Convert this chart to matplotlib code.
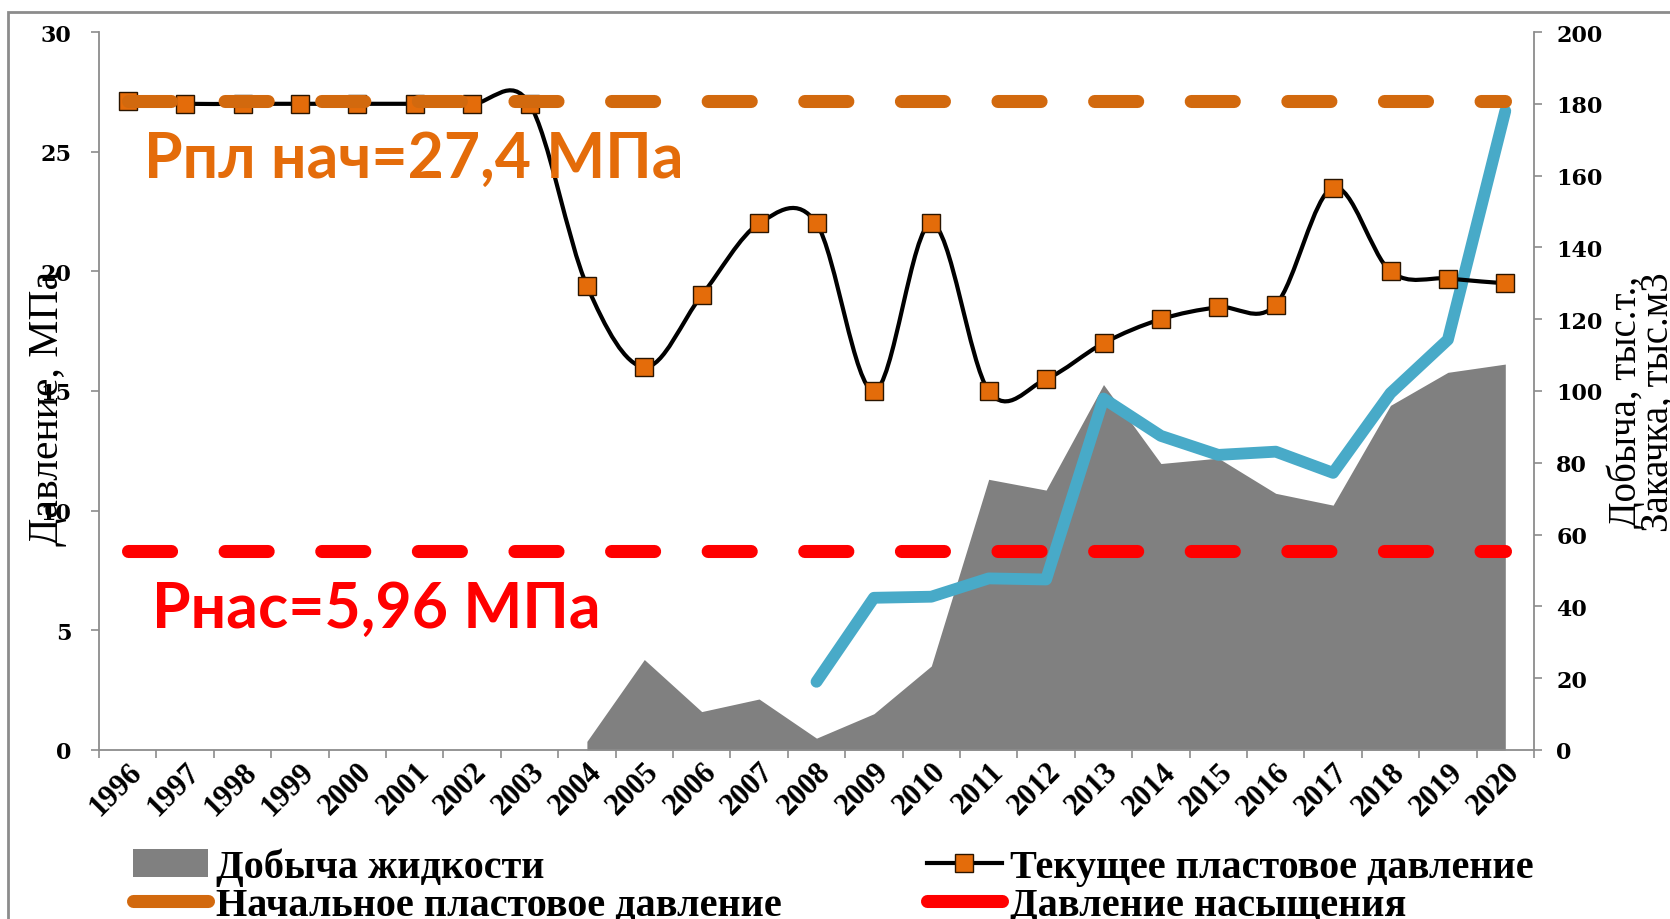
import numpy as np
import matplotlib
matplotlib.use("Agg")
import matplotlib.pyplot as plt
from matplotlib.path import Path
from matplotlib.patches import PathPatch, Rectangle, Patch
from matplotlib.lines import Line2D

years = list(range(1996, 2021))

# текущее пластовое давление, МПа (левая ось)
p_current = [27.1, 27.0, 27.0, 27.0, 27.0, 27.0, 27.0, 27.0, 19.4, 16.0,
             19.0, 22.0, 22.0, 15.0, 22.0, 15.0, 15.5, 17.0, 18.0, 18.5,
             18.6, 23.5, 20.0, 19.7, 19.5]
p_initial = 27.1
p_sat = 8.3

# добыча жидкости, тыс.т (правая ось), с 2004 г.
prod_years = list(range(2004, 2021))
production = [2.4, 25.2, 10.7, 14.2, 3.3, 10.1, 23.4, 75.4, 72.4, 101.8,
              79.8, 81.3, 71.5, 68.2, 96.0, 105.2, 107.5]

# закачка, тыс.м3 (правая ось), с 2008 г.
inj_years = list(range(2008, 2021))
injection = [19.0, 42.4, 42.7, 47.8, 47.5, 97.9, 87.5, 82.2, 83.1, 77.2,
             99.4, 114.3, 178.0]

ORANGE = "#D2690E"
MARKER = "#E46C0A"
RED = "#FF0000"
BLUE = "#48AAC8"
GRAY = "#808080"
AXIS = "#8C8C8C"

fig = plt.figure(figsize=(16.7, 9.2), dpi=100)
ax = fig.add_axes([99 / 1670, 1 - 751 / 920, 1435 / 1670, 718 / 920])
ax2 = ax.twinx()
ax.set_zorder(ax2.get_zorder() + 1)
ax.patch.set_visible(False)

idx = {y: i for i, y in enumerate(years)}
xp = [idx[y] for y in prod_years]
xi = [idx[y] for y in inj_years]

ax2.fill_between(xp, production, 0, color=GRAY, lw=0, zorder=1)
ax2.plot(xi, injection, color=BLUE, lw=8.5, solid_capstyle="round",
         solid_joinstyle="round", zorder=2)

# сглаженная линия (как в Excel) через кривые Безье
pts = np.column_stack([np.arange(len(years)), p_current])
verts = [pts[0]]
codes = [Path.MOVETO]
n = len(pts)
for i in range(n - 1):
    p0 = pts[max(i - 1, 0)]
    p1 = pts[i]
    p2 = pts[i + 1]
    p3 = pts[min(i + 2, n - 1)]
    verts += [p1 + (p2 - p0) / 6, p2 - (p3 - p1) / 6, p2]
    codes += [Path.CURVE4] * 3
ax.add_patch(PathPatch(Path(verts, codes), fill=False, ec="black", lw=3.0,
                       zorder=3))
ax.plot(range(n), p_current, ls="none", marker="s", ms=13.5, mfc=MARKER,
        mec="#2a1500", mew=1.0, zorder=4)

ax.plot([0, n - 1], [p_initial, p_initial], color=ORANGE, lw=9.4,
        dashes=(3.3, 4.1), dash_capstyle="round", zorder=5)
ax.plot([0, n - 1], [p_sat, p_sat], color=RED, lw=9.4,
        dashes=(3.3, 4.1), dash_capstyle="round", zorder=5)

ax.text(0.28, 23.95, "Рпл нач=27,4 МПа", color=MARKER, fontsize=45,
        fontweight="bold", family="Lato", va="baseline", zorder=6)
ax.text(0.42, 5.15, "Рнас=5,96 МПа", color=RED, fontsize=45,
        fontweight="bold", family="Lato", va="baseline", zorder=6)

ax.set_xlim(-0.5, n - 0.5)
ax.set_ylim(0, 30)
ax2.set_ylim(0, 200)
ax.set_yticks(range(0, 31, 5))
ax2.set_yticks(range(0, 201, 20))

ax.set_xticks(range(n))
ax.set_xticklabels([str(y) for y in years], rotation=45, ha="right",
                   va="top", rotation_mode="anchor", fontsize=22,
                   fontweight="bold", family="Liberation Serif")
ax.set_xticks(np.arange(-0.5, n, 1), minor=True)
ax.tick_params(axis="x", which="major", length=0, pad=5)
ax.tick_params(axis="x", which="minor", length=6, color=AXIS, width=1.2)

for a in (ax, ax2):
    for s in a.spines.values():
        s.set_visible(False)
ax.spines["left"].set_visible(True)
ax.spines["bottom"].set_visible(True)
ax2.spines["right"].set_visible(True)
for s in (ax.spines["left"], ax.spines["bottom"], ax2.spines["right"]):
    s.set_color(AXIS)
    s.set_linewidth(1.3)

ax.tick_params(axis="y", length=6, color=AXIS, width=1.2, pad=14)
ax2.tick_params(axis="y", length=6, color=AXIS, width=1.2, pad=10)
for lab in ax.get_yticklabels() + ax2.get_yticklabels():
    lab.set_fontfamily("DejaVu Serif")
    lab.set_fontweight("bold")
    lab.set_fontsize(16)

fig.text(48 / 1670, 1 - 408 / 920, "Давление, МПа", rotation=90,
         ha="center", va="center", fontsize=30, family="Liberation Serif")
fig.text(1626 / 1670, 1 - 402 / 920, "Добыча, тыс.т.,", rotation=90,
         ha="center", va="center", fontsize=28, family="Liberation Serif")
fig.text(1658 / 1670, 1 - 402 / 920, "Закачка, тыс.м3", rotation=90,
         ha="center", va="center", fontsize=28, family="Liberation Serif")

# рамка слайда
fig.patches.append(Rectangle((8 / 1670, -0.1), 1.2, 1.1 - 13 / 920,
                             transform=fig.transFigure, fill=False,
                             ec=AXIS, lw=2))

leg_items = [
    (Patch(fc=GRAY, ec="none"), "Добыча жидкости", 133, 868),
    (Line2D([], [], color="black", lw=3.0, marker="s", ms=13.5, mfc=MARKER,
            mec="#2a1500", mew=1.0), "Текущее пластовое давление", 927, 868),
    (Line2D([], [], color=ORANGE, lw=9.4, solid_capstyle="round"),
     "Начальное пластовое давление", 133, 906),
    (Line2D([], [], color=RED, lw=9.4, solid_capstyle="round"),
     "Давление насыщения", 927, 906),
]
for h, lab, lx, ly in leg_items:
    fig.legend([h], [lab], loc="center left",
               bbox_to_anchor=(lx / 1670, 1 - ly / 920), frameon=False,
               prop={"family": "Liberation Serif", "weight": "bold",
                     "size": 29},
               handlelength=1.85, handletextpad=0.21, borderpad=0,
               borderaxespad=0)

fig.savefig("out.png", dpi=100)
